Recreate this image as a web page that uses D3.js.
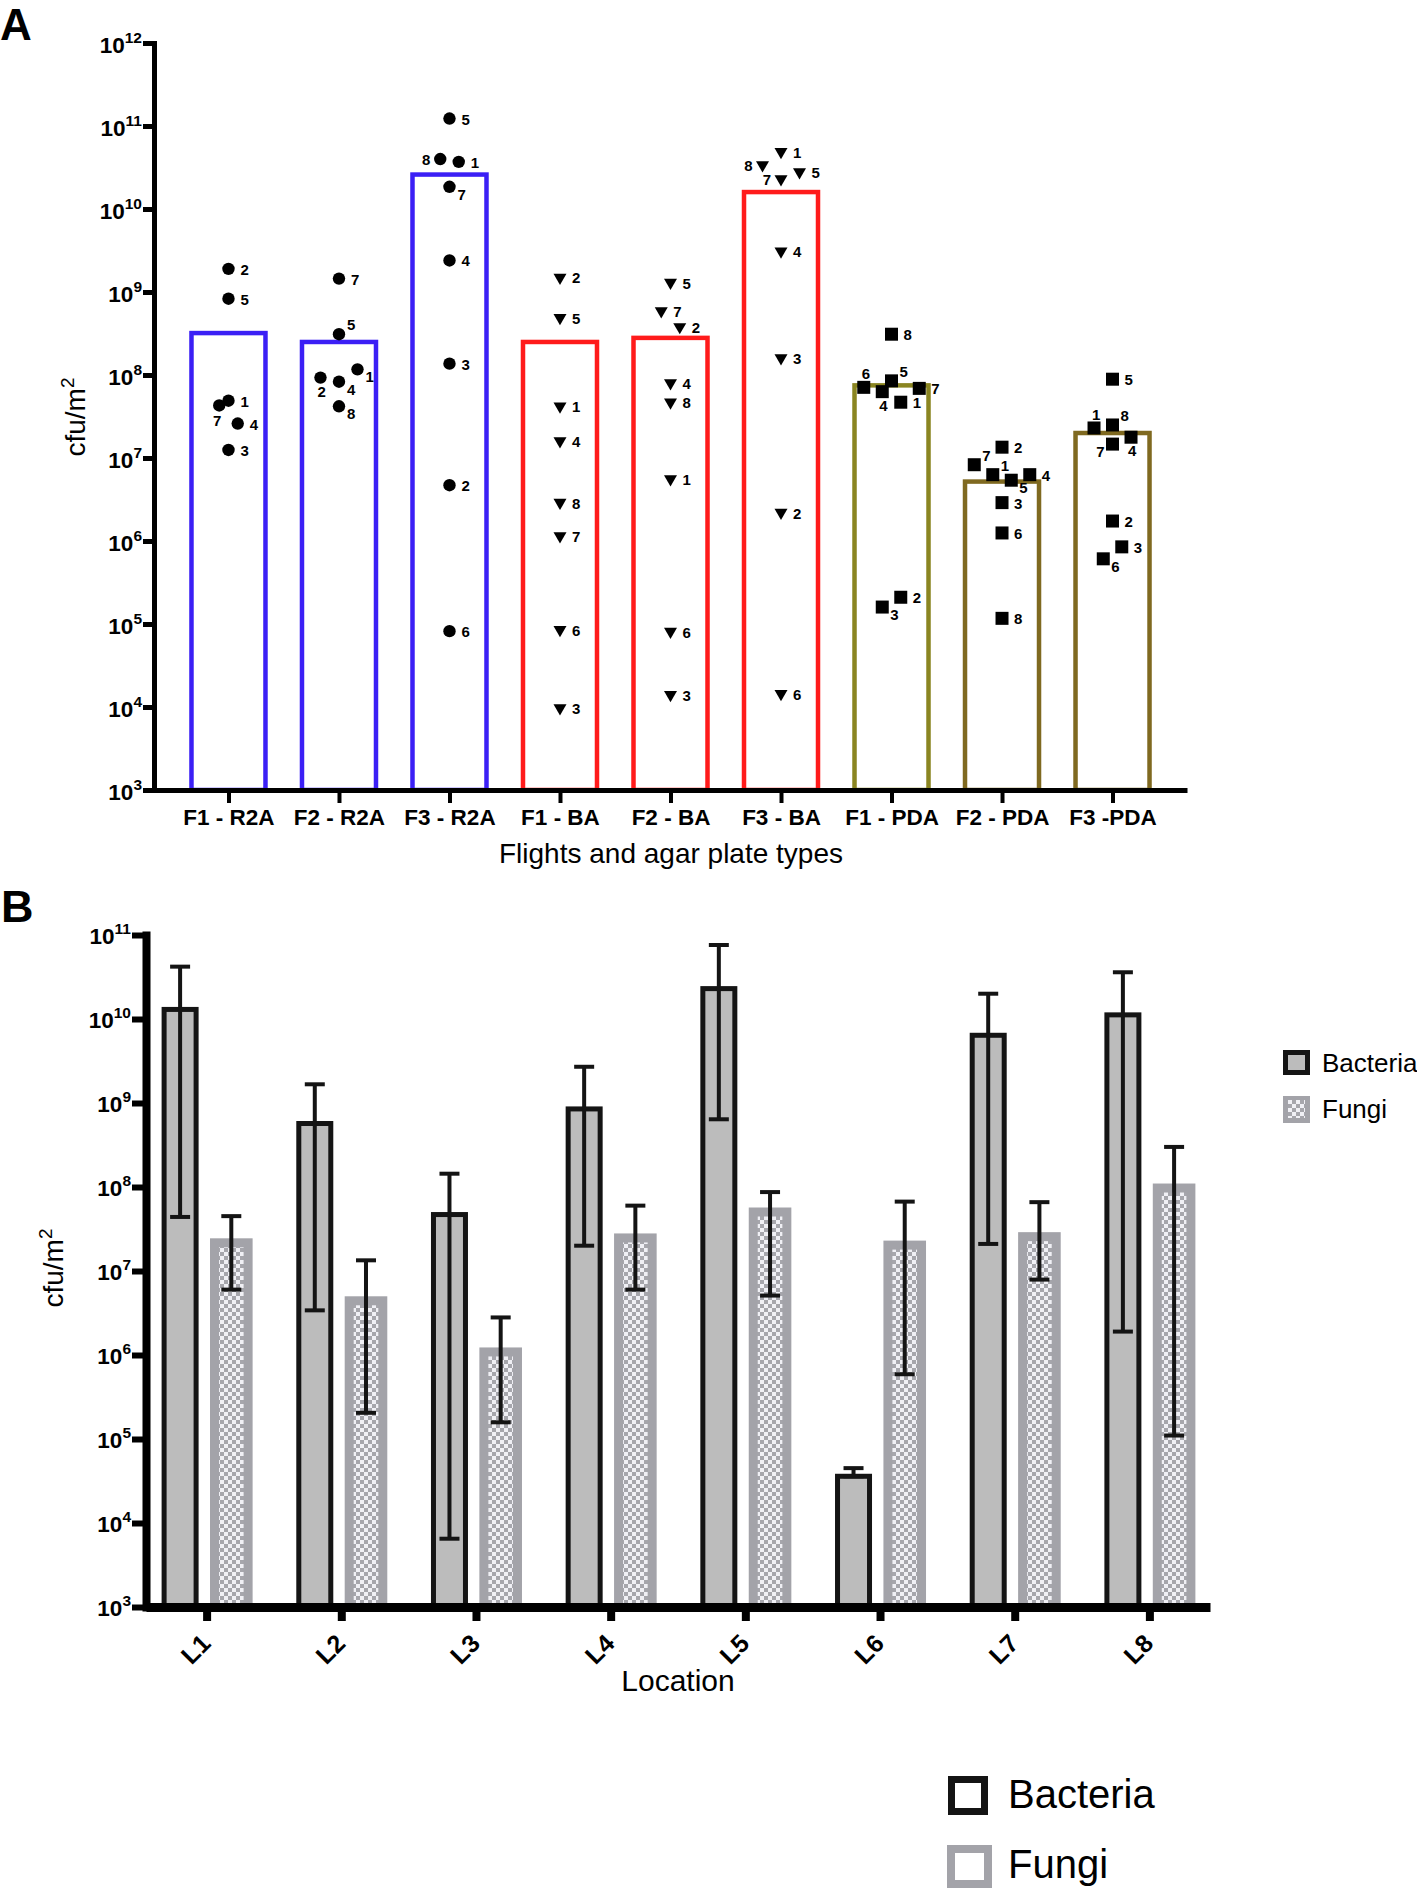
<!DOCTYPE html>
<html><head><meta charset="utf-8">
<script src="https://cdn.jsdelivr.net/npm/d3@7"></script>
<style>
body{margin:0;background:#fff;}
svg{display:block;font-family:"Liberation Sans",Arial,Helvetica,sans-serif;}
</style>
</head><body>
<svg id="c" width="1417" height="1889"></svg>
<script>
// ================= DATA =================
// Panel A: flights and agar plate types
const groupsA = ["F1 - R2A","F2 - R2A","F3 - R2A","F1 - BA","F2 - BA","F3 - BA","F1 - PDA","F2 - PDA","F3 -PDA"];
const plateA  = ["R2A","R2A","R2A","BA","BA","BA","PDA","PDA","PDA"];
const meansA  = [3.2e8, 2.5e8, 2.6e10, 2.5e8, 2.8e8, 1.6e10, 7.5e7, 5.2e6, 2.0e7];

// samples: [sample id, cfu/m2]
const samplesF1R2A = [[2,1.9e9],[5,8.3e8],[1,4.9e7],[7,4.3e7],[4,2.6e7],[3,1.25e7]];
const samplesF2R2A = [[7,1.45e9],[5,3.1e8],[1,1.17e8],[2,9.3e7],[4,8.3e7],[8,4.2e7]];
const samplesF3R2A = [[5,1.23e11],[8,4.0e10],[1,3.7e10],[7,1.85e10],[4,2.4e9],[3,1.37e8],[2,4.7e6],[6,8.2e4]];
const samplesF1BA  = [[2,1.5e9],[5,4.9e8],[1,4.2e7],[4,1.6e7],[8,2.9e6],[7,1.15e6],[6,8.5e4],[3,9.7e3]];
const samplesF2BA  = [[5,1.3e9],[7,5.9e8],[2,3.8e8],[4,8.0e7],[8,4.7e7],[1,5.6e6],[6,8.1e4],[3,1.4e4]];
const samplesF3BA  = [[1,4.9e10],[8,3.4e10],[5,2.8e10],[7,2.3e10],[4,3.1e9],[3,1.6e8],[2,2.2e6],[6,1.44e4]];
const samplesF1PDA = [[8,3.1e8],[6,7.1e7],[5,8.5e7],[4,6.3e7],[7,6.9e7],[1,4.7e7],[2,2.1e5],[3,1.6e5]];
const samplesF2PDA = [[2,1.35e7],[7,8.3e6],[1,6.3e6],[5,5.4e6],[4,6.3e6],[3,2.9e6],[6,1.25e6],[8,1.17e5]];
const samplesF3PDA = [[5,8.9e7],[1,2.3e7],[8,2.5e7],[4,1.78e7],[7,1.47e7],[2,1.74e6],[3,8.5e5],[6,6.1e5]];
const samplesA = [samplesF1R2A,samplesF2R2A,samplesF3R2A,samplesF1BA,samplesF2BA,samplesF3BA,samplesF1PDA,samplesF2PDA,samplesF3PDA];

// horizontal spread of overlapping points (in marker half-widths), same order as samples
const jitterA = [
  [0,0,0,-1,1,0],
  [0,0,2,-2,0,0],
  [0,-1,1,0,0,0,0,0],
  [0,0,0,0,0,0,0,0],
  [0,-1,1,0,0,0,0,0],
  [0,-2,2,0,0,0,0,0],
  [0,-3,0,-1,3,1,1,-1],
  [0,-3,-1,1,3,0,0,0],
  [0,-2,0,2,0,0,1,-1]
];
// side of the point where its sample number is written
const labelSideA = [
  ["r","r","r","bl","r","r"],
  ["r","ra","rb","b","rb","rb"],
  ["r","l","r","rb","r","r","r","r"],
  ["r","r","r","r","r","r","r","r"],
  ["r","r","r","r","r","r","r","r"],
  ["r","l","r","l","r","r","r","r"],
  ["r","a","ra","b","r","r","r","rb"],
  ["r","ra","ra","rb","r","r","r","r"],
  ["r","a","ra","b","lb","r","r","rb"]
];
const tickExpA = [3,4,5,6,7,8,9,10,11,12];

// Panel B: location
const locations   = ["L1","L2","L3","L4","L5","L6","L7","L8"];
const seriesB     = ["Bacteria","Fungi"];
const bacteriaMean = [1.3e10, 5.7e8, 4.7e7, 8.5e8, 2.3e10, 3.6e4, 6.4e9, 1.12e10];
const bacteriaHigh = [4.2e10, 1.67e9, 1.44e8, 2.7e9, 7.6e10, 4.5e4, 2.0e10, 3.6e10];
const bacteriaLow  = [4.4e7, 3.4e6, 6.5e3, 2.0e7, 6.4e8, 3.6e4, 2.1e7, 1.9e6];
const fungiMean    = [2.45e7, 5.0e6, 1.23e6, 2.8e7, 5.7e7, 2.3e7, 2.9e7, 1.1e8];
const fungiHigh    = [4.5e7, 1.34e7, 2.8e6, 6.0e7, 8.7e7, 6.7e7, 6.6e7, 3.0e8];
const fungiLow     = [6.0e6, 2.05e5, 1.58e5, 6.0e6, 5.1e6, 5.9e5, 7.9e6, 1.1e5];
const tickExpB = [3,4,5,6,7,8,9,10,11];

// ================= STYLE =================
const FONT = '"Liberation Sans", Arial, Helvetica, sans-serif';
const colorA = ["#3b1ff5","#3b1ff5","#3b1ff5","#ff1b1b","#ff1b1b","#ff1b1b","#8a8521","#7f6920","#7f6920"];
const INK = "#141414";
const labelOff = {
  r:{dx:12,dy:6,a:"start"}, l:{dx:-10,dy:6,a:"end"}, rb:{dx:8,dy:13,a:"start"},
  b:{dx:-3,dy:19,a:"start"}, bl:{dx:2,dy:21,a:"end"}, lb:{dx:-8,dy:13,a:"end"},
  ra:{dx:8,dy:-4,a:"start"}, a:{dx:-2,dy:-8,a:"start"}
};

const svg = d3.select("#c");
const defs = svg.append("defs");
const pat = defs.append("pattern").attr("id","checker").attr("patternUnits","userSpaceOnUse")
  .attr("width",8).attr("height",8);
pat.append("rect").attr("width",8).attr("height",8).attr("fill","#f0f0f5");
pat.append("rect").attr("width",4).attr("height",4).attr("fill","#a6a6ac");
pat.append("rect").attr("x",4).attr("y",4).attr("width",4).attr("height",4).attr("fill","#a6a6ac");

// panel letters
svg.append("text").attr("x",0).attr("y",40).attr("font-size",44).attr("font-weight","bold").text("A");
svg.append("text").attr("x",1).attr("y",922).attr("font-size",45).attr("font-weight","bold").text("B");

function powLabels(g, x, y, big, small, rise){
  g.attr("font-family", FONT);
  g.selectAll(".tick text").each(function(d){
    const t = d3.select(this);
    const e = Math.round(Math.log10(d));
    t.text(null).attr("x",x).attr("y",y).attr("dy",null)
     .attr("font-size",big).attr("font-weight","bold").attr("fill","#000").attr("text-anchor","end");
    t.append("tspan").text("10");
    t.append("tspan").attr("dy",-rise).attr("font-size",small).text(e);
  });
}

// ================= PANEL A =================
const xA = d3.scalePoint().domain(groupsA).range([154,1187]).padding(0.674);
const yA = d3.scaleLog().domain([1e3,1e12]).range([790,43]);
const gA = svg.append("g");

const barW = 74;
gA.selectAll("rect.barA").data(groupsA).join("rect").attr("class","barA")
  .attr("x", d => xA(d) - barW/2)
  .attr("y", (d,i) => yA(meansA[i]))
  .attr("width", barW)
  .attr("height", (d,i) => yA(1e3) - yA(meansA[i]))
  .attr("fill","none").attr("stroke",(d,i)=>colorA[i]).attr("stroke-width",4.5);

const symType = {R2A: d3.symbolCircle, BA: d3.symbolTriangle, PDA: d3.symbolSquare};
const symSize = {R2A: 121, BA: 73, PDA: 169};
const jUnit = 9.25;
groupsA.forEach((grp,gi) => {
  const pts = samplesA[gi].map((s,k) => ({id:s[0], v:s[1], j:jitterA[gi][k], side:labelSideA[gi][k]}));
  const plate = plateA[gi];
  const sym = d3.symbol().type(symType[plate]).size(symSize[plate]);
  const g = gA.append("g");
  g.selectAll("path").data(pts).join("path")
    .attr("d", sym)
    .attr("transform", p => `translate(${xA(grp) + p.j*jUnit},${yA(p.v)})` + (plate==="BA" ? " rotate(180)" : ""))
    .attr("fill","#000");
  g.selectAll("text").data(pts).join("text")
    .attr("x", p => xA(grp) + p.j*jUnit + labelOff[p.side].dx)
    .attr("y", p => yA(p.v) + labelOff[p.side].dy)
    .attr("text-anchor", p => labelOff[p.side].a)
    .attr("font-size",15).attr("font-weight","bold").text(p => p.id);
});

// axes A
const axYA = gA.append("g").attr("transform","translate(154,0)")
  .call(d3.axisLeft(yA).tickValues(tickExpA.map(e=>Math.pow(10,e))).tickSize(11).tickSizeOuter(0));
axYA.select(".domain").attr("stroke","#000").attr("stroke-width",5).attr("stroke-linecap","square");
axYA.selectAll(".tick line").attr("stroke","#000").attr("stroke-width",5);
powLabels(axYA, -12, 9, 22.5, 15.5, 10);

const axXA = gA.append("g").attr("transform","translate(0,790)")
  .call(d3.axisBottom(xA).tickSize(13).tickSizeOuter(0).tickPadding(6));
axXA.attr("font-family", FONT);
axXA.select(".domain").attr("stroke","#000").attr("stroke-width",5);
axXA.selectAll(".tick line").attr("stroke","#000").attr("stroke-width",4);
axXA.selectAll(".tick text").attr("font-size",22.5).attr("font-weight","bold").attr("fill","#000");

// titles A
const tYA = gA.append("text").attr("transform","translate(85,417) rotate(-90)")
  .attr("text-anchor","middle").attr("font-size",28);
tYA.append("tspan").text("cfu/m");
tYA.append("tspan").attr("dy",-11).attr("font-size",19).text("2");
gA.append("text").attr("x",671).attr("y",863).attr("text-anchor","middle").attr("font-size",28)
  .text("Flights and agar plate types");

// ================= PANEL B =================
const xB = d3.scalePoint().domain(locations).range([146,1210]).padding(0.45);
const yB = d3.scaleLog().domain([1e3,1e11]).range([1607,935]);
const x1 = d3.scaleBand().domain(seriesB).range([-45,46]).paddingInner(0.12);
const gB = svg.append("g");
const rowsB = locations.map((L,i) => ({
  L,
  bac:{m:bacteriaMean[i], hi:bacteriaHigh[i], lo:bacteriaLow[i]},
  fun:{m:fungiMean[i], hi:fungiHigh[i], lo:fungiLow[i]}
}));
const base = yB(1e3);
const bw = x1.bandwidth();

// fungi bars
const fg = gB.append("g");
fg.selectAll("rect.fo").data(rowsB).join("rect").attr("class","fo")
  .attr("x", d => xB(d.L) + x1("Fungi")).attr("y", d => yB(d.fun.m))
  .attr("width", bw).attr("height", d => base - yB(d.fun.m)).attr("fill","#a3a3a9");
fg.selectAll("rect.fi").data(rowsB).join("rect").attr("class","fi")
  .attr("x", d => xB(d.L) + x1("Fungi") + 9).attr("y", d => yB(d.fun.m) + 9)
  .attr("width", bw - 18).attr("height", d => Math.max(0, base - yB(d.fun.m) - 9)).attr("fill","url(#checker)");

// bacteria bars
gB.selectAll("rect.bb").data(rowsB).join("rect").attr("class","bb")
  .attr("x", d => xB(d.L) + x1("Bacteria") + 2.5).attr("y", d => yB(d.bac.m))
  .attr("width", bw - 10.6).attr("height", d => base - yB(d.bac.m))
  .attr("fill","#bcbcbc").attr("stroke",INK).attr("stroke-width",5);

// error bars
function errBars(key, series, shift){
  const g = gB.append("g").attr("stroke",INK).attr("stroke-width",4);
  rowsB.forEach(d => {
    const cx = xB(d.L) + x1(series) + shift;
    const e = d[key];
    g.append("line").attr("x1",cx).attr("x2",cx).attr("y1",yB(e.lo)).attr("y2",yB(e.hi));
    g.append("line").attr("x1",cx-10).attr("x2",cx+10).attr("y1",yB(e.hi)).attr("y2",yB(e.hi));
    g.append("line").attr("x1",cx-10).attr("x2",cx+10).attr("y1",yB(e.lo)).attr("y2",yB(e.lo));
  });
}
errBars("bac","Bacteria", 2.5 + (bw-10.6)/2);
errBars("fun","Fungi", bw/2);

// axes B
const axYB = gB.append("g").attr("transform","translate(146,0)")
  .call(d3.axisLeft(yB).tickValues(tickExpB.map(e=>Math.pow(10,e))).tickSize(14).tickSizeOuter(0));
axYB.select(".domain").attr("stroke","#000").attr("stroke-width",8).attr("stroke-linecap","square");
axYB.selectAll(".tick line").attr("stroke","#000").attr("stroke-width",6);
powLabels(axYB, -15, 8, 22.5, 15.5, 10);

const axXB = gB.append("g").attr("transform","translate(0,1607)")
  .call(d3.axisBottom(xB).tickSize(14).tickSizeOuter(0));
axXB.attr("font-family", FONT);
axXB.select(".domain").attr("stroke","#000").attr("stroke-width",9);
axXB.selectAll(".tick line").attr("stroke","#000").attr("stroke-width",8);
axXB.selectAll(".tick text").attr("font-size",25).attr("font-weight","bold").attr("fill","#000")
  .attr("x",null).attr("y",null).attr("dy",null).attr("text-anchor","end")
  .attr("transform","translate(5,38) rotate(-45)");

// titles B
const tYB = gB.append("text").attr("transform","translate(63,1268) rotate(-90)")
  .attr("text-anchor","middle").attr("font-size",28);
tYB.append("tspan").text("cfu/m");
tYB.append("tspan").attr("dy",-11).attr("font-size",19).text("2");
gB.append("text").attr("x",678).attr("y",1691).attr("text-anchor","middle").attr("font-size",30).text("Location");

// legend beside panel B
const lg = gB.append("g");
lg.append("rect").attr("x",1285.5).attr("y",1052.5).attr("width",22).attr("height",20)
  .attr("fill","#bcbcbc").attr("stroke",INK).attr("stroke-width",5);
lg.append("rect").attr("x",1283).attr("y",1096).attr("width",27).attr("height",27).attr("fill","#a3a3a9");
lg.append("rect").attr("x",1288).attr("y",1100).attr("width",17).attr("height",18).attr("fill","url(#checker)");
lg.append("text").attr("x",1322).attr("y",1072).attr("font-size",26).text(seriesB[0]);
lg.append("text").attr("x",1322).attr("y",1118).attr("font-size",26).text(seriesB[1]);

// bottom legend
const lg2 = svg.append("g");
lg2.append("rect").attr("x",951.5).attr("y",1779.5).attr("width",33).attr("height",32)
  .attr("fill","#fff").attr("stroke",INK).attr("stroke-width",7);
lg2.append("rect").attr("x",951).attr("y",1849).attr("width",37).attr("height",35)
  .attr("fill","#fff").attr("stroke","#a3a3a9").attr("stroke-width",8);
lg2.append("text").attr("x",1008).attr("y",1808).attr("font-size",40).text(seriesB[0]);
lg2.append("text").attr("x",1008).attr("y",1878).attr("font-size",40).text(seriesB[1]);
</script>
</body></html>
